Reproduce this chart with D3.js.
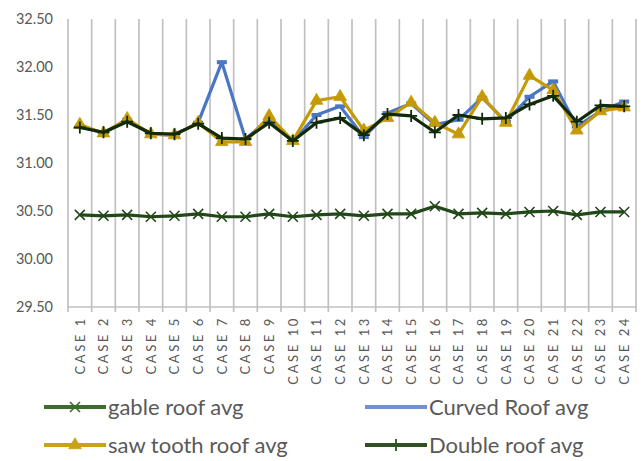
<!DOCTYPE html>
<html>
<head>
<meta charset="utf-8">
<script src="https://cdn.jsdelivr.net/npm/d3@7/dist/d3.min.js"></script>
<style>
  html, body { margin: 0; padding: 0; background: #fff; }
  svg { display: block; }
  text { font-family: Lato, "Open Sans", sans-serif; fill: #595959; }
</style>
</head>
<body>
<svg id="chart" width="643" height="461"></svg>
<script>
// Case labels along the bottom axis
const categories = d3.range(1, 25).map(i => "CASE " + i);

// Average temperature per case for each roof type
const gableRoof = [30.46, 30.45, 30.46, 30.44, 30.45, 30.47, 30.44, 30.44, 30.47, 30.44, 30.46, 30.47,
                   30.45, 30.47, 30.47, 30.55, 30.47, 30.48, 30.47, 30.49, 30.50, 30.46, 30.49, 30.49];
const curvedRoof = [31.38, 31.31, 31.45, 31.30, 31.29, 31.42, 32.05, 31.25, 31.46, 31.22, 31.50, 31.59,
                    31.27, 31.52, 31.62, 31.40, 31.45, 31.68, 31.43, 31.69, 31.85, 31.38, 31.54, 31.64];
const sawToothRoof = [31.40, 31.31, 31.46, 31.30, 31.29, 31.42, 31.22, 31.22, 31.49, 31.23, 31.65, 31.69,
                      31.34, 31.47, 31.63, 31.42, 31.30, 31.69, 31.42, 31.91, 31.76, 31.34, 31.54, 31.58];
const doubleRoof = [31.37, 31.32, 31.43, 31.31, 31.30, 31.41, 31.26, 31.25, 31.42, 31.23, 31.42, 31.47,
                    31.29, 31.51, 31.49, 31.32, 31.50, 31.46, 31.47, 31.61, 31.70, 31.43, 31.60, 31.59];

const yTicks = [29.5, 30.0, 30.5, 31.0, 31.5, 32.0, 32.5];

const series = [
  { name: "gable roof avg",     values: gableRoof,    color: "#22481a", legendColor: "#3b6e2c", marker: "x" },
  { name: "Curved Roof avg",    values: curvedRoof,   color: "#4a76c4", legendColor: "#6f93d0", marker: "dash" },
  { name: "saw tooth roof avg", values: sawToothRoof, color: "#c59a06", legendColor: "#c9a21c", marker: "tri" },
  { name: "Double roof avg",    values: doubleRoof,   color: "#112a0b", legendColor: "#2f5222", marker: "plus" }
];

const svg = d3.select("#chart");
const plotLeft = 68, plotRight = 636, plotTop = 19, plotBottom = 307;

const x = d3.scaleBand().domain(categories).range([plotLeft, plotRight]).paddingInner(0).paddingOuter(0);
const y = d3.scaleLinear().domain([29.5, 32.5]).range([plotBottom, plotTop]);
const cx = c => x(c) + x.bandwidth() / 2;

// Vertical gridlines on category boundaries (with small outward ticks)
const bounds = categories.map(c => x(c)).concat([x.range()[1]]);
svg.append("g").selectAll("line").data(bounds).join("line")
  .attr("x1", d => d).attr("x2", d => d)
  .attr("y1", plotTop).attr("y2", plotBottom + 5)
  .attr("stroke", "#c0c0c0").attr("stroke-width", 1.7);

// Bottom axis line
svg.append("line")
  .attr("x1", plotLeft).attr("x2", plotRight).attr("y1", plotBottom).attr("y2", plotBottom)
  .attr("stroke", "#c0c0c0").attr("stroke-width", 1.7);

// Y axis labels
const yAxis = d3.axisLeft(y).tickValues(yTicks).tickFormat(d3.format(".2f")).tickSize(0).tickPadding(15);
const gy = svg.append("g").attr("transform", `translate(${plotLeft},0)`).call(yAxis);
gy.select(".domain").remove();
gy.selectAll("text").style("font-size", "14.5px").style("font-family", "Lato, sans-serif").attr("fill", "#595959");

// X axis labels, rotated and letter-spaced
const xAxis = d3.axisBottom(x).tickSize(0).tickPadding(0);
const gx = svg.append("g").attr("transform", `translate(0,${plotBottom})`).call(xAxis);
gx.select(".domain").remove();
gx.selectAll("text")
  .attr("transform", "rotate(-90)")
  .attr("x", -9).attr("y", 0).attr("dy", "0.36em")
  .style("text-anchor", "end")
  .style("font-size", "13px")
  .style("letter-spacing", "2.6px")
  .style("font-family", "Lato, sans-serif")
  .attr("fill", "#595959");

// Lines
const line = d3.line().x((d, i) => cx(categories[i])).y(d => y(d));

function drawMarker(g, type, color, px, py) {
  if (type === "x") {
    g.append("path").attr("d", `M${px-5},${py-5}L${px+5},${py+5}M${px-5},${py+5}L${px+5},${py-5}`)
      .attr("stroke", color).attr("stroke-width", 1.6).attr("fill", "none");
  } else if (type === "plus") {
    g.append("path").attr("d", `M${px-6},${py}L${px+6},${py}M${px},${py-6}L${px},${py+6}`)
      .attr("stroke", color).attr("stroke-width", 1.8).attr("fill", "none");
  } else if (type === "tri") {
    g.append("path").attr("d", d3.symbol(d3.symbolTriangle, 70)())
      .attr("transform", `translate(${px},${py})`)
      .attr("fill", color).attr("stroke", color).attr("stroke-width", 0.8);
  } else if (type === "dash") {
    g.append("rect").attr("x", px - 5).attr("y", py - 2).attr("width", 10).attr("height", 4)
      .attr("fill", color);
  }
}

series.forEach(s => {
  const g = svg.append("g");
  g.append("path").datum(s.values).attr("d", line)
    .attr("fill", "none").attr("stroke", s.color).attr("stroke-width", 3.2)
    .attr("stroke-linejoin", "round");
  s.values.forEach((v, i) => drawMarker(g, s.marker, s.color, cx(categories[i]), y(v)));
});

// Legend
const legendPos = [
  { x: 44, y: 407 }, { x: 365, y: 407 },
  { x: 44, y: 445 }, { x: 365, y: 445 }
];
series.forEach((s, i) => {
  const p = legendPos[i];
  const g = svg.append("g");
  g.append("line").attr("x1", p.x).attr("x2", p.x + 62).attr("y1", p.y).attr("y2", p.y)
    .attr("stroke", s.legendColor).attr("stroke-width", 4);
  drawMarker(g, s.marker, s.legendColor, p.x + 31, p.y);
  g.append("text").attr("x", p.x + 64).attr("y", p.y).attr("dy", "0.35em")
    .style("font-size", "22px").attr("fill", "#595959").text(s.name);
});
</script>
</body>
</html>
